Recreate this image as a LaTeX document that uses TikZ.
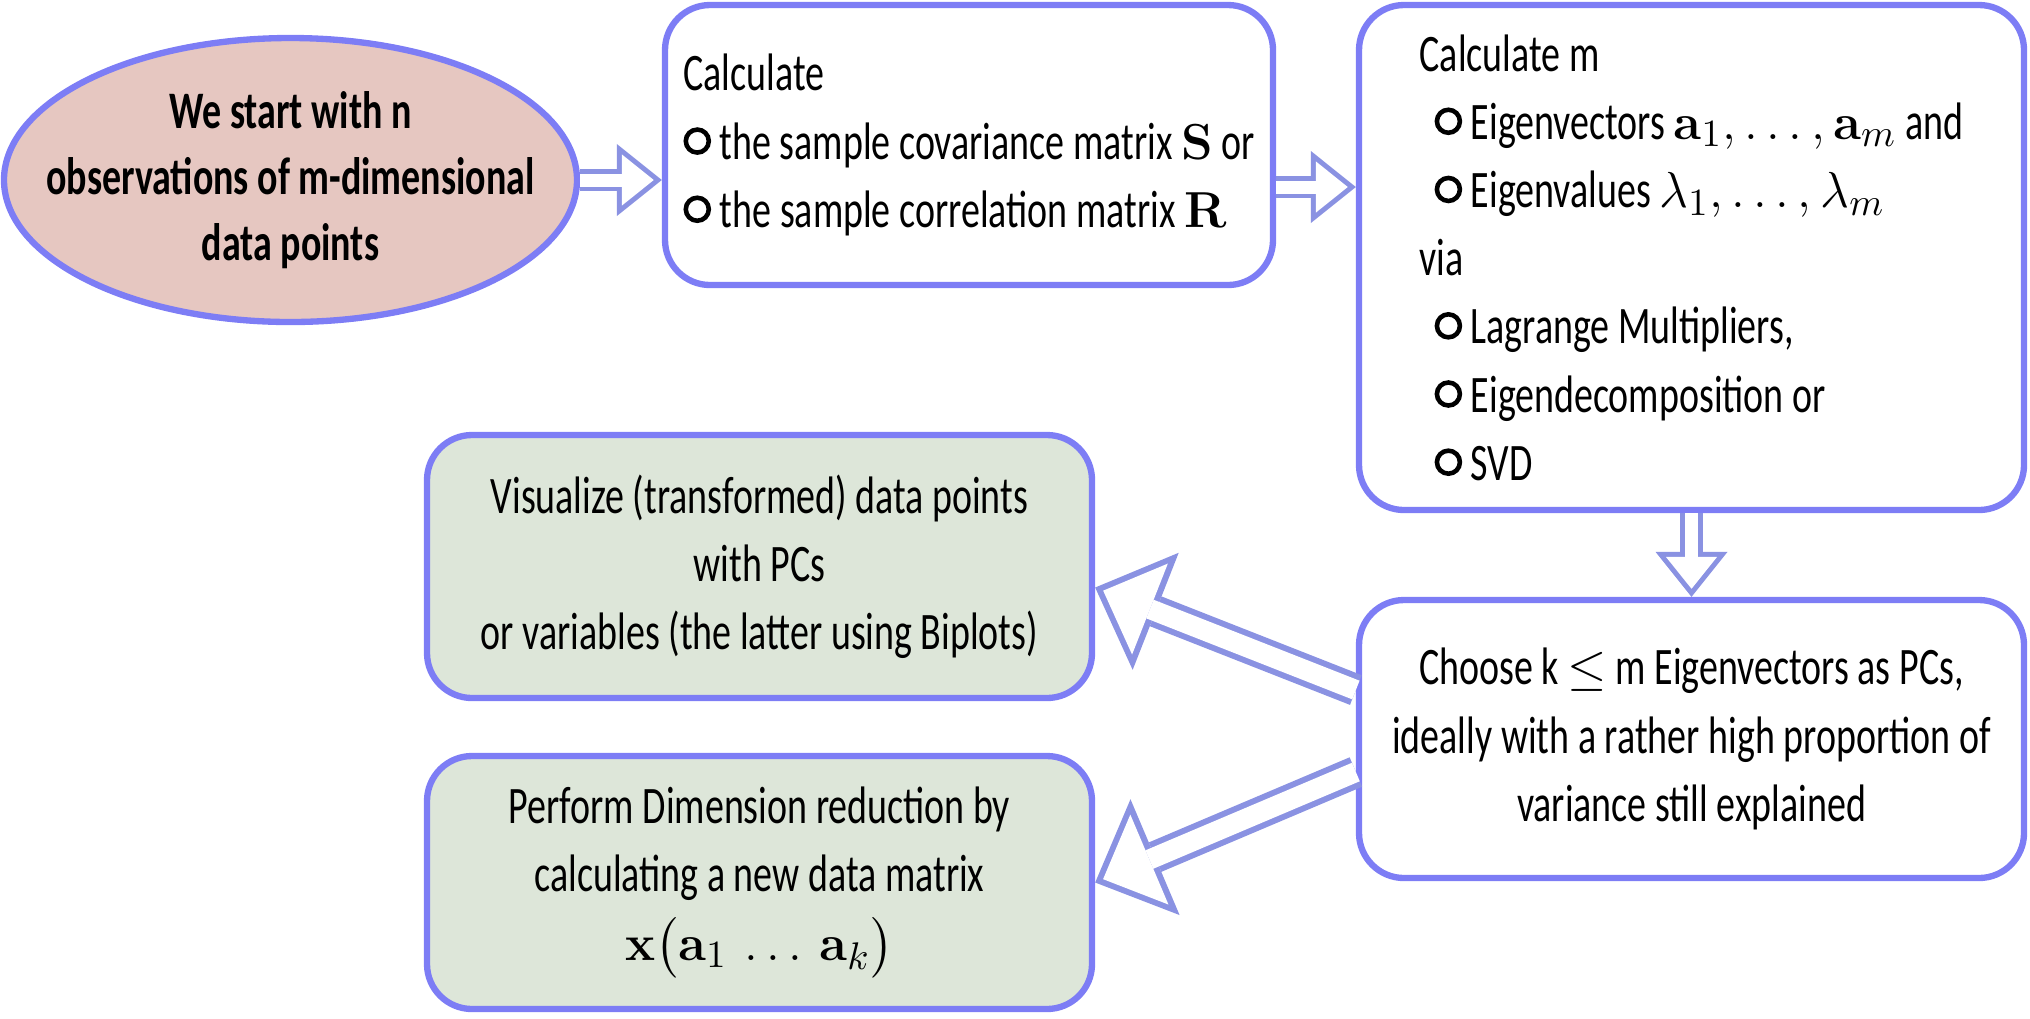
\documentclass[tikz,border=0pt]{standalone}
\usepackage{amsmath}
\usepackage[no-math]{fontspec}
\setmainfont{Carlito}[FakeStretch=0.72]
\usetikzlibrary{%
    shapes.geometric,%
    arrows.meta
}
\definecolor{rim}{RGB}{125,125,245}
\definecolor{shaft}{RGB}{138,146,226}
\definecolor{startfill}{RGB}{230,199,193}
\definecolor{resfill}{RGB}{221,230,217}
\newcommand{\ringbul}{\tikz[baseline=-1.8mm]\draw[line width=1.3pt] (0,0) circle (1.15mm);}
\tikzset{
  txt/.style={font=\fontsize{15pt}{19.4pt}\selectfont},
  startell/.style={ellipse, draw=rim, line width=1.8pt, fill=startfill, align=center,
    font=\fontsize{15pt}{18.8pt}\selectfont\bfseries,
    inner xsep=-0.8cm, inner ysep=-0.3cm, minimum width=5.73cm, minimum height=2.84cm},
  stepbox/.style={txt, draw=rim, line width=1.8pt, rounded corners=0.45cm, minimum width=6.65cm, fill=white},
  resbox/.style={stepbox, fill=resfill, align=center},
  fatS/.style={line width=6.5pt, draw=shaft, -{Triangle[length=12.8pt,width=20.5pt,line width=0pt]},
    postaction={draw=white, line width=3.7pt, shorten >=2.3pt, -{Triangle[length=9.1pt,width=14.6pt,line width=0pt]}}},
  fatL/.style={line width=9.1pt, draw=shaft, -{Triangle[length=18.5pt,width=35.8pt,line width=0pt]},
    postaction={draw=white, line width=5.7pt, shorten >=2.45pt, -{Triangle[length=14.3pt,width=27.8pt,line width=0pt]}}}
}
\begin{document}
\begin{tikzpicture}
\useasboundingbox (0,0) rectangle (20.3,-10.18);

\node[startell] (start) at (2.905,-1.8) {We start with n\\ observations of m-dimensional\\ data points};
\node[stepbox, minimum width=6.08cm, minimum height=2.8cm, align=left] (calc) at (9.69,-1.45)
  {Calculate\\ \ringbul\ the sample covariance matrix $\mathbf{S}$ or\\ \ringbul\,the sample correlation matrix $\mathbf{R}$};
\node[stepbox, minimum height=5.05cm, align=left] (eig) at (16.915,-2.575)
  {Calculate m\\
   \hspace*{1.5mm}\ringbul\ Eigenvectors $\mathbf{a}_1,\ldots,\mathbf{a}_m$ and\\
   \hspace*{1.5mm}\ringbul\ Eigenvalues $\lambda_1,\ldots,\lambda_m$\\
   via\\
   \hspace*{1.5mm}\ringbul\ Lagrange Multipliers,\\
   \hspace*{1.5mm}\ringbul\ Eigendecomposition or\\
   \hspace*{1.5mm}\ringbul\ SVD};
\node[stepbox, minimum height=2.78cm, align=center] (choose) at (16.915,-7.39)
  {Choose k $\leq$ m Eigenvectors as PCs,\\ ideally with a rather high proportion of\\ variance still explained};
\node[resbox, minimum height=2.63cm] (vis) at (7.595,-5.665)
  {Visualize (transformed) data points\\ with PCs\\ or variables (the latter using Biplots)};
\node[resbox, minimum height=2.53cm] (red) at (7.595,-8.825)
  {Perform Dimension reduction by\\ calculating a new data matrix\\
   {\fontsize{15pt}{21pt}\selectfont$\mathbf{x}\bigl(\mathbf{a}_1\ \ldots\ \mathbf{a}_k\bigr)$}};

\draw[fatS] (start.east) -- (start.east -| calc.west);
\draw[fatS] ([yshift=-0.42cm]calc.east) -- ([yshift=-0.42cm]calc.east -| eig.west);
\draw[fatS] (eig.south) -- (choose.north);
\draw[fatL] ([yshift=0.49cm]choose.west) -- ([yshift=-0.21cm]vis.east);
\draw[fatL] ([yshift=-0.33cm]choose.west) -- (red.east);
\end{tikzpicture}
\end{document}
